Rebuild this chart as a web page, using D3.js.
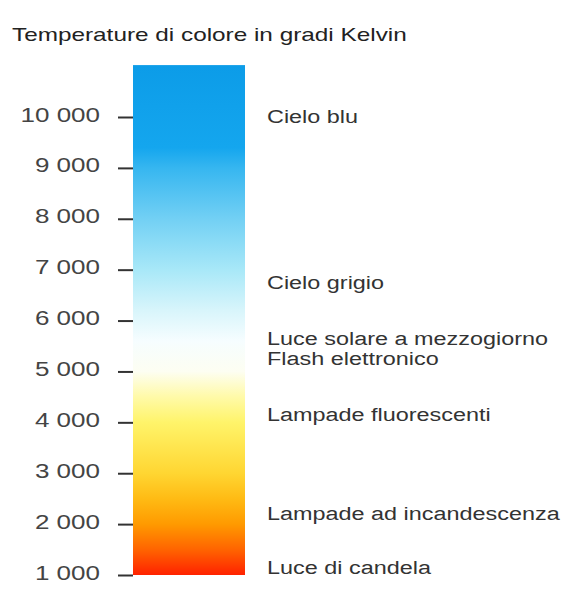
<!DOCTYPE html>
<html>
<head>
<meta charset="utf-8">
<script src="https://cdn.jsdelivr.net/npm/d3@7"></script>
<style>
  html, body { margin: 0; padding: 0; background: #fff; }
  text { font-family: "Liberation Sans", Arial, sans-serif; }
</style>
</head>
<body>
<svg id="chart" width="568" height="589"></svg>
<script>
// ---- data ----
const title = "Temperature di colore in gradi Kelvin";
const tickValues = [1000, 2000, 3000, 4000, 5000, 6000, 7000, 8000, 9000, 10000];
const barRange = [1000, 11020];
const stopTemps  = [1000, 1500, 2000, 2500, 3000, 4000, 4500, 5000, 5600, 6200, 7000, 8000, 9000, 9400, 11020];
const stopColors = ["#ff2200", "#ff6400", "#ff9a00", "#ffbb14", "#ffd632", "#fff46a", "#fffaa8", "#fdfef2", "#f6fdff", "#d8f5fb", "#a8e8f8", "#72d0f4", "#36b6f0", "#14a6ee", "#0c9ce8"];
const labels     = ["Cielo blu", "Cielo grigio", "Luce solare a mezzogiorno", "Flash elettronico", "Lampade fluorescenti", "Lampade ad incandescenza", "Luce di candela"];
const labelTemps = [10000, 6750, 5650, 5250, 4150, 2200, 1150];

// ---- layout ----
const svg = d3.select("#chart");
const barX0 = 133, barX1 = 245;
const y = d3.scaleLinear().domain([1000, 10000]).range([575, 117]);
const stretch = 1.3;

function widen(sel, k) {
  sel.each(function () {
    const w = this.getComputedTextLength();
    this.setAttribute("textLength", w * k);
    this.setAttribute("lengthAdjust", "spacingAndGlyphs");
  });
}

// gradient
const defs = svg.append("defs");
const grad = defs.append("linearGradient")
  .attr("id", "kelvin")
  .attr("gradientUnits", "userSpaceOnUse")
  .attr("x1", 0).attr("x2", 0)
  .attr("y1", y(barRange[0])).attr("y2", y(barRange[1]));
const span = barRange[1] - barRange[0];
grad.selectAll("stop")
  .data(stopTemps)
  .join("stop")
  .attr("offset", d => (d - barRange[0]) / span)
  .attr("stop-color", (d, i) => stopColors[i]);

svg.append("rect")
  .attr("x", barX0)
  .attr("width", barX1 - barX0)
  .attr("y", y(barRange[1]))
  .attr("height", y(barRange[0]) - y(barRange[1]))
  .attr("fill", "url(#kelvin)");

// axis
const fmt = d => d3.format(",")(d).replace(/,/g, " ");
const axis = d3.axisLeft(y)
  .tickValues(tickValues)
  .tickFormat(fmt)
  .tickSize(15)
  .tickPadding(18);
const gAxis = svg.append("g")
  .attr("transform", `translate(${barX0},0)`)
  .call(axis);
gAxis.select(".domain").remove();
gAxis.selectAll(".tick line").attr("stroke", "#333").attr("stroke-width", 2);
gAxis.selectAll(".tick text")
  .attr("fill", "#444")
  .style("font-size", "20px")
  .attr("dy", "0.2em");
widen(gAxis.selectAll(".tick text"), stretch);

// title
const t = svg.append("text")
  .attr("x", 12).attr("y", 41)
  .attr("fill", "#222")
  .style("font-size", "19px")
  .text(title);
widen(t, 1.28);

// labels
const lab = svg.append("g").selectAll("text")
  .data(labels)
  .join("text")
  .attr("x", barX1 + 22)
  .attr("y", (d, i) => y(labelTemps[i]))
  .attr("dy", "0.35em")
  .attr("fill", "#333")
  .style("font-size", "18px")
  .text(d => d);
widen(lab, stretch);
</script>
</body>
</html>
